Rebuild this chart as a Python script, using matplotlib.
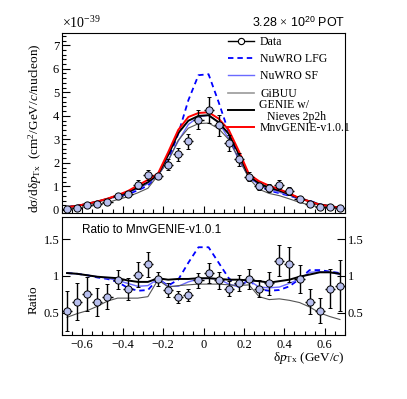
import numpy as np
import matplotlib
matplotlib.use('Agg')
import matplotlib.pyplot as plt
from matplotlib.lines import Line2D
from matplotlib.ticker import MultipleLocator, FixedLocator, FuncFormatter

plt.rcParams['font.family'] = ['Liberation Serif', 'DejaVu Serif']
plt.rcParams['mathtext.fontset'] = 'custom'
plt.rcParams['mathtext.rm'] = 'Liberation Serif'
plt.rcParams['mathtext.it'] = 'Liberation Serif:italic'
plt.rcParams['mathtext.sf'] = 'Liberation Sans'

# ---------------- data ----------------
bin_edges = np.round(np.arange(-0.70, 0.7001, 0.05), 3)
x_ticks = [-0.6, -0.4, -0.2, 0.0, 0.2, 0.4, 0.6]

# cross section (units of 1e-39 cm^2/GeV/c/nucleon)
data_xsec = [0.05, 0.10, 0.20, 0.24, 0.35, 0.60, 0.67, 1.08, 1.48, 1.45,
             1.93, 2.37, 2.91, 3.84, 4.25, 3.59, 2.84, 2.15, 1.41, 1.01,
             0.94, 1.08, 0.81, 0.46, 0.24, 0.11, 0.13, 0.07]
data_err = [0.03, 0.04, 0.06, 0.07, 0.08, 0.08, 0.12, 0.18, 0.22, 0.14,
            0.25, 0.27, 0.32, 0.41, 0.54, 0.43, 0.34, 0.28, 0.20, 0.15,
            0.16, 0.18, 0.17, 0.10, 0.06, 0.04, 0.04, 0.03]
mnvgenie = [0.12, 0.17, 0.26, 0.36, 0.48, 0.63, 0.80, 1.04, 1.28, 1.55,
            2.45, 3.40, 3.95, 4.12, 4.15, 3.88, 3.40, 2.50, 1.52, 1.22,
            1.03, 0.88, 0.70, 0.50, 0.36, 0.22, 0.16, 0.09]

# ratios to MnvGENIE-v1.0.1
ratio_data = [0.53, 0.65, 0.76, 0.65, 0.72, 0.95, 0.82, 1.02, 1.16, 0.96,
              0.81, 0.71, 0.74, 0.94, 1.04, 0.94, 0.83, 0.90, 0.96, 0.83,
              0.90, 1.21, 1.16, 0.96, 0.65, 0.53, 0.83, 0.87]
ratio_err = [0.27, 0.25, 0.23, 0.19, 0.17, 0.13, 0.15, 0.17, 0.17, 0.09,
             0.10, 0.08, 0.08, 0.10, 0.13, 0.11, 0.10, 0.11, 0.13, 0.12,
             0.16, 0.21, 0.24, 0.19, 0.17, 0.17, 0.27, 0.35]
ratio_nuwro_lfg = [1.04, 1.03, 1.01, 0.98, 0.96, 0.92, 0.84, 0.80, 0.81, 0.96,
                   0.87, 0.95, 1.18, 1.39, 1.39, 1.18, 0.97, 0.85, 0.95, 0.82,
                   0.80, 0.81, 0.86, 0.96, 1.08, 1.08, 1.06, 1.04]
ratio_nuwro_sf = [1.04, 1.03, 1.01, 0.99, 0.97, 0.94, 0.90, 0.86, 0.87, 0.96,
                  0.86, 0.86, 0.92, 0.96, 0.97, 0.96, 0.89, 0.85, 0.94, 0.85,
                  0.84, 0.85, 0.90, 0.96, 1.05, 1.06, 1.05, 1.02]
ratio_gibuu = [0.44, 0.49, 0.53, 0.59, 0.66, 0.70, 0.70, 0.70, 0.72, 0.95,
               0.85, 0.87, 0.88, 0.89, 0.89, 0.89, 0.88, 0.87, 0.88, 0.72,
               0.68, 0.69, 0.67, 0.64, 0.58, 0.50, 0.45, 0.41]
ratio_genie = [1.04, 1.03, 1.01, 0.99, 0.98, 0.97, 0.94, 0.92, 0.92, 0.97,
               0.95, 0.96, 0.96, 0.97, 0.97, 0.96, 0.95, 0.95, 0.94, 0.93,
               0.91, 0.93, 0.95, 0.99, 1.02, 1.05, 1.05, 1.03]

centers = 0.5 * (bin_edges[:-1] + bin_edges[1:])
half_w = 0.5 * np.diff(bin_edges)
mnv = np.array(mnvgenie)

models = [
    ("NuWRO LFG", ratio_nuwro_lfg, dict(color='#0000ff', lw=1.3, ls=(0, (3.0, 2.2)))),
    ("NuWRO SF", ratio_nuwro_sf, dict(color='#6a6aff', lw=1.0, ls='-')),
    ("GiBUU", ratio_gibuu, dict(color='#555555', lw=0.8, ls='-')),
    ("GENIE w/", ratio_genie, dict(color='black', lw=1.4, ls='-')),
]

FILL = '#b8bfee'

fig = plt.figure(figsize=(4.07, 3.99), dpi=100)
ax1 = fig.add_axes([62/407, 1-213/399, 283/407, 180/399])
ax2 = fig.add_axes([62/407, 1-335/399, 283/407, 118/399])

# ---------------- top panel ----------------
for name, r, st in models:
    ax1.plot(centers, np.array(r) * mnv, **st, zorder=3)
ax1.plot(centers, mnv, color='#ff0000', lw=1.4, zorder=4)
ax1.errorbar(centers, data_xsec, xerr=half_w, fmt='none', ecolor='black',
             elinewidth=1.0, capsize=0, zorder=9)
ax1.errorbar(centers, data_xsec, yerr=data_err, fmt='o', ms=5.2, mfc=FILL,
             mec='black', mew=0.7, ecolor='black', elinewidth=1.0,
             capsize=1.6, capthick=1.0, zorder=10)

ax1.set_xlim(-0.7, 0.7)
ax1.set_ylim(-0.13, 7.52)
ax1.xaxis.set_major_locator(FixedLocator(x_ticks))
ax1.xaxis.set_minor_locator(MultipleLocator(0.05))
ax1.yaxis.set_major_locator(MultipleLocator(1))
ax1.yaxis.set_minor_locator(MultipleLocator(0.2))
ax1.tick_params(axis='both', which='both', direction='in', top=False, right=False)
ax1.tick_params(axis='x', which='major', length=5.0, width=0.8, labelbottom=False)
ax1.tick_params(axis='x', which='minor', length=2.6, width=0.8)
ax1.tick_params(axis='y', which='major', length=6.0, width=0.8, labelsize=9, pad=2)
ax1.tick_params(axis='y', which='minor', length=3.0, width=0.8)
ax1.yaxis.set_major_formatter(FuncFormatter(lambda v, p: '%d' % round(v)))

ax1.set_ylabel('dσ/dδ$p_{\\mathrm{Tx}}$  (cm$^{2}$/GeV/$c$/nucleon)', fontsize=9.5)
ax1.yaxis.set_label_coords(-0.065, 0.47)

ax1.text(0.0, 1.012, r'$\times$10$^{-39}$', transform=ax1.transAxes,
         ha='left', va='bottom', fontsize=10)
fig.text(345/407, 1-27/399, r'3.28 $\times$ 10$^{\mathsf{20}}$ POT',
         family='Liberation Sans', ha='right', va='baseline', fontsize=9)

# legend
leg_handles = [Line2D([], [], color='black', lw=1.0, marker='o', ms=4.5,
                      mfc='white', mec='black', mew=0.8)]
leg_labels = ['Data']
for name, r, st in models:
    leg_handles.append(Line2D([], [], **st))
    leg_labels.append(name)
leg_handles[3] = Line2D([], [], color='#999999', lw=1.2)
leg_labels[4] = ' '
leg_handles.append(Line2D([], [], color='#ff0000', lw=1.4))
leg_labels.append('MnvGENIE-v1.0.1')
leg = ax1.legend(leg_handles, leg_labels, loc='upper left',
                 bbox_to_anchor=(0.585, 0.983), frameon=False, fontsize=8.5,
                 handlelength=2.2, handletextpad=0.55, labelspacing=0.44,
                 borderpad=0, borderaxespad=0)
ax1.text((259-62)/283, (213-105)/180, 'GENIE w/', transform=ax1.transAxes,
         fontsize=8.5, ha='left', va='center')
ax1.text((267-62)/283, (213-117)/180, 'Nieves 2p2h', transform=ax1.transAxes,
         fontsize=8.5, ha='left', va='center')

# ---------------- ratio panel ----------------
for name, r, st in models:
    ax2.plot(centers, r, **st, zorder=3)
ax2.errorbar(centers, ratio_data, xerr=half_w, fmt='none', ecolor='black',
             elinewidth=1.0, capsize=0, zorder=9)
ax2.errorbar(centers, ratio_data, yerr=ratio_err, fmt='o', ms=5.2, mfc=FILL,
             mec='black', mew=0.7, ecolor='black', elinewidth=1.0,
             capsize=1.6, capthick=1.0, zorder=10)

ax2.set_xlim(-0.7, 0.7)
ax2.set_ylim(0.2, 1.8)
ax2.xaxis.set_major_locator(FixedLocator(x_ticks))
ax2.xaxis.set_minor_locator(MultipleLocator(0.05))
ax2.yaxis.set_major_locator(FixedLocator([0.5, 1.0, 1.5]))
ax2.tick_params(axis='both', which='both', direction='in', top=False)
ax2.tick_params(axis='x', which='major', length=5.0, width=0.8, labelsize=9, pad=3)
ax2.tick_params(axis='x', which='minor', length=2.6, width=0.8)
ax2.tick_params(axis='y', which='major', length=6.0, width=0.8, labelsize=9,
                pad=2, right=True, labelright=True)
ax2.xaxis.set_major_formatter(FuncFormatter(lambda v, p: ('%g' % round(v, 2)).replace('-', '\u2212')))
ax2.yaxis.set_major_formatter(FuncFormatter(lambda v, p: '%g' % v))

ax2.text(0.07, 0.89, 'Ratio to MnvGENIE-v1.0.1', transform=ax2.transAxes,
         family='Liberation Sans', fontsize=8.5, ha='left', va='center')
ax2.set_ylabel('Ratio', fontsize=9.5)
ax2.yaxis.set_label_coords(-0.08, 0.30)
ax2.set_xlabel('δ$p_{\\mathrm{Tx}}$ (GeV/$c$)', fontsize=9.5, loc='right')
ax2.xaxis.set_label_coords(1.0, -0.125)

for ax in (ax1, ax2):
    for s in ax.spines.values():
        s.set_linewidth(0.8)

fig.savefig('out.png', dpi=100)
